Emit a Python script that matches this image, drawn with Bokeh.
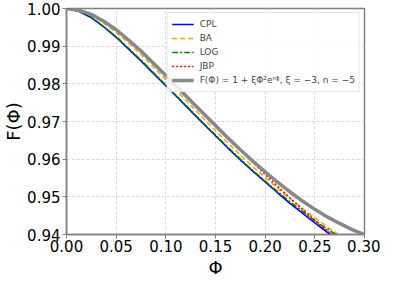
from bokeh.plotting import figure
from bokeh.models import FixedTicker, PrintfTickFormatter, Legend, LegendItem, Range1d
from bokeh.embed import file_html
from bokeh.resources import INLINE

# Values
phi = [0.0, 0.0125, 0.025, 0.0375, 0.05, 0.0625, 0.075, 0.0875, 0.1, 0.1125, 0.125, 0.1375,
       0.15, 0.1625, 0.175, 0.1875, 0.2, 0.2125, 0.225, 0.2375, 0.25, 0.2625, 0.275, 0.2875, 0.3]
cpl = [1.0, 0.99926, 0.99755, 0.99510, 0.99236, 0.98923, 0.98610, 0.98277, 0.97950, 0.97617,
       0.97281, 0.96948, 0.96621, 0.96295, 0.95980, 0.95680, 0.95395, 0.95108, 0.94829, 0.94569,
       0.94310, 0.94060, 0.93830, 0.93610, 0.93400]
ba = [1.0, 0.99946, 0.99815, 0.99610, 0.99366, 0.99083, 0.98780, 0.98447, 0.98110, 0.97772,
      0.97431, 0.97093, 0.96761, 0.96430, 0.96110, 0.95805, 0.95515, 0.95223, 0.94949, 0.94689,
      0.94448, 0.94200, 0.93975, 0.93770, 0.93580]
log_ = [1.0, 0.99926, 0.99765, 0.99520, 0.99256, 0.98943, 0.98630, 0.98297, 0.97970, 0.97637,
        0.97301, 0.96968, 0.96641, 0.96315, 0.96000, 0.95700, 0.95415, 0.95138, 0.94869, 0.94619,
        0.94370, 0.94140, 0.93930, 0.93730, 0.93540]
jbp = [1.0, 0.99956, 0.99845, 0.99660, 0.99436, 0.99168, 0.98880, 0.98562, 0.98240, 0.97912,
       0.97581, 0.97248, 0.96921, 0.96585, 0.96250, 0.95920, 0.95595, 0.95278, 0.94969, 0.94669,
       0.94375, 0.94097, 0.93834, 0.93581, 0.93356]
fphi = [1.0, 0.99956, 0.99845, 0.99660, 0.99436, 0.99163, 0.98870, 0.98547, 0.98220, 0.97887,
        0.97551, 0.97218, 0.96891, 0.96565, 0.96250, 0.95950, 0.95665, 0.95388, 0.95129, 0.94889,
        0.94668, 0.94467, 0.94294, 0.94131, 0.93996]

x_ticks = [0.0, 0.05, 0.10, 0.15, 0.20, 0.25, 0.30]
y_ticks = [0.94, 0.95, 0.96, 0.97, 0.98, 0.99, 1.00]

labels = ["CPL", "BA", "LOG", "JBP", "F(Φ) = 1 + ξΦ²eⁿᶲ, ξ = −3, n = −5"]

p = figure(width=380, height=280, output_backend="svg", toolbar_location=None,
           x_range=Range1d(0, 0.3), y_range=Range1d(0.94, 1.0),
           min_border_left=60, min_border_right=16, min_border_top=8, min_border_bottom=40)

p.background_fill_color = "white"
p.border_fill_color = "white"
p.outline_line_color = "#808080"
p.outline_line_width = 1.5

for ax in (p.xaxis[0], p.yaxis[0]):
    ax.axis_line_color = "#808080"
    ax.axis_line_width = 1.5
    ax.major_tick_line_color = "#808080"
    ax.major_tick_in = 0
    ax.major_tick_out = 4
    ax.minor_tick_line_color = None
    ax.major_label_text_font = "DejaVu Sans"
    ax.major_label_text_font_size = "15px"
    ax.major_label_text_color = "black"
    ax.axis_label_text_font = "DejaVu Sans"
    ax.axis_label_text_font_size = "18px"
    ax.axis_label_text_font_style = "normal"
    ax.axis_label_text_color = "black"
    ax.formatter = PrintfTickFormatter(format="%.2f")

p.xaxis[0].ticker = FixedTicker(ticks=x_ticks)
p.yaxis[0].ticker = FixedTicker(ticks=y_ticks)
p.xaxis.axis_label = "Φ"
p.yaxis.axis_label = "F(Φ)"
p.xaxis.major_label_standoff = 1
p.yaxis.major_label_standoff = 2
p.xaxis.axis_label_standoff = 2
p.yaxis.axis_label_standoff = 0

p.grid.grid_line_color = "#cfcfcf"
p.grid.grid_line_dash = "3 2"
p.grid.grid_line_width = 0.8

r1 = p.line(phi, cpl, line_color="#0000ff", line_width=1.6)
r2 = p.line(phi, ba, line_color="#ffa500", line_width=1.6, line_dash="5 3")
r3 = p.line(phi, log_, line_color="#008000", line_width=1.6, line_dash="6 2 2 2")
r4 = p.line(phi, jbp, line_color="#ff0000", line_width=1.6, line_dash="2 2")
r5 = p.line(phi, fphi, line_color="#888888", line_width=3.5)

items = [LegendItem(label=l, renderers=[r]) for l, r in zip(labels, [r1, r2, r3, r4, r5])]
legend = Legend(items=items, location="top_right")
legend.label_text_font = "DejaVu Sans"
legend.label_text_font_size = "9px"
legend.glyph_width = 22
legend.glyph_height = 14
legend.label_height = 14
legend.spacing = 0
legend.padding = 4
legend.margin = 4
legend.label_standoff = 6
legend.border_line_color = "#d0d0d0"
legend.border_line_width = 1
legend.background_fill_alpha = 0.85
p.add_layout(legend)

open("out.html", "w").write(file_html(p, INLINE))
